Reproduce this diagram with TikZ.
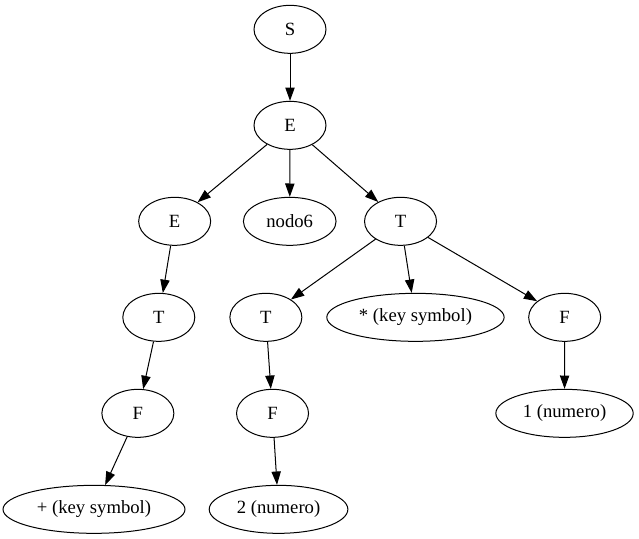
\documentclass[tikz,border=0pt]{standalone}
\usepackage{fontspec}
\setmainfont{Liberation Serif}
\usetikzlibrary{shapes.geometric,arrows.meta}
\begin{document}
\begin{tikzpicture}[x=1pt,y=1pt,
  tnode/.style={draw,ellipse,line width=0.75pt,inner sep=0pt,minimum height=36pt,minimum width=54pt,
    font=\fontsize{14pt}{16pt}\selectfont},
  edge/.style={draw,line width=0.75pt,-{Triangle[length=10pt,width=7pt]}}]
\useasboundingbox (0,0) rectangle (479.25,-404.25);
% rank 0
\node[tnode] (s) at (217.5,-22) {S};
% rank 1
\node[tnode] (e1) at (217.5,-94) {E};
% rank 2
\node[tnode] (e2) at (131,-166) {E};
\node[tnode,minimum width=69.5pt] (n6) at (217.3,-166) {nodo6};
\node[tnode] (t1) at (300.4,-166) {T};
% rank 3
\node[tnode] (t2) at (119.1,-238) {T};
\node[tnode] (t3) at (199.4,-238) {T};
\node[tnode,minimum width=133pt] (star) at (311.6,-238) {* (key symbol)};
\node[tnode] (f1) at (423.5,-238) {F};
% rank 4
\node[tnode] (f2) at (103.4,-310) {F};
\node[tnode] (f3) at (204.4,-310) {F};
\node[tnode,minimum width=103pt] (one) at (423.4,-310) {1 (numero)};
% rank 5
\node[tnode,minimum width=136.5pt] (plus) at (70.5,-382) {+ (key symbol)};
\node[tnode,minimum width=104pt] (two) at (208.9,-382) {2 (numero)};
% edges
\draw[edge] (s) -- (e1);
\draw[edge] (e1) -- (e2);
\draw[edge] (e1) -- (n6);
\draw[edge] (e1) -- (t1);
\draw[edge] (e2) -- (t2);
\draw[edge] (t1) -- (t3);
\draw[edge] (t1) -- (star);
\draw[edge] (t1) -- (f1);
\draw[edge] (t2) -- (f2);
\draw[edge] (t3) -- (f3);
\draw[edge] (f1) -- (one);
\draw[edge] (f2) -- (plus);
\draw[edge] (f3) -- (two);
\end{tikzpicture}
\end{document}
